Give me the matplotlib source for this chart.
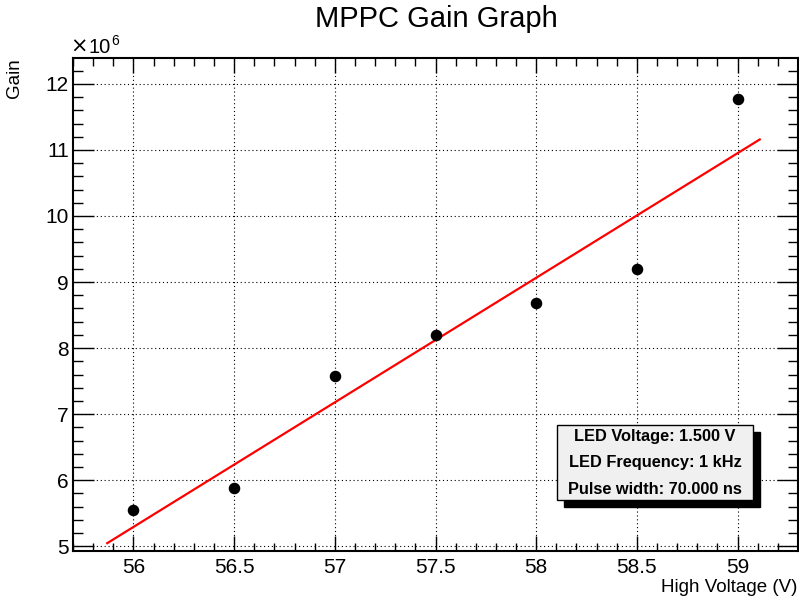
import numpy as np
import matplotlib
matplotlib.use('Agg')
from matplotlib import pyplot as plt
from matplotlib.patches import Rectangle
from matplotlib.ticker import MultipleLocator

plt.rcParams['font.family'] = ['Liberation Sans', 'DejaVu Sans']

# high voltage (V) and gain (x 1e6)
voltage = [56.0, 56.5, 57.0, 57.5, 58.0, 58.5, 59.0]
gain_e6 = [5.55, 5.88, 7.57, 8.20, 8.68, 9.20, 11.77]
fit_range = [55.87, 59.11]
info_lines = ["LED Voltage: 1.500 V", "LED Frequency: 1 kHz", "Pulse width: 70.000 ns"]

W, H = 799, 601
fig = plt.figure(figsize=(W / 100, H / 100), dpi=100)
ax = fig.add_axes([73 / W, 50 / H, 725 / W, 493 / H])

x = np.array(voltage)
y = np.array(gain_e6)

# straight line fit, like pol1 in ROOT
p = np.polyfit(x, y, 1)
xf = np.linspace(fit_range[0], fit_range[1], 50)
ax.plot(xf, np.polyval(p, xf), color='red', lw=1.6, zorder=3)
ax.plot(x, y, 'o', color='black', ms=7.3, zorder=4)

# ROOT style auto range: 10% margin on each side
dx = x.max() - x.min()
dy = y.max() - y.min()
ax.set_xlim(x.min() - 0.1 * dx, x.max() + 0.1 * dx)
ax.set_ylim(y.min() - 0.1 * dy, y.max() + 0.1 * dy)

ax.xaxis.set_major_locator(MultipleLocator(0.5))
ax.xaxis.set_minor_locator(MultipleLocator(0.1))
ax.yaxis.set_major_locator(MultipleLocator(1))
ax.yaxis.set_minor_locator(MultipleLocator(0.2))
ax.xaxis.set_major_formatter(lambda v, pos: '%g' % v)
ax.yaxis.set_major_formatter(lambda v, pos: '%g' % v)

ax.grid(True, which='major', color='black', lw=0.8, linestyle=(0, (1, 2.5)))
ax.set_axisbelow(True)

ax.tick_params(axis='both', which='both', direction='in', top=True, right=True,
               width=1, labelsize=15)
ax.tick_params(axis='x', which='major', length=11, pad=5)
ax.tick_params(axis='x', which='minor', length=5.5)
ax.tick_params(axis='y', which='major', length=15, pad=3)
ax.tick_params(axis='y', which='minor', length=7.5)
for s in ax.spines.values():
    s.set_linewidth(1.5)

fig.text(436 / W, 1 - 27 / H, "MPPC Gain Graph", ha='center', va='baseline', fontsize=21)
fig.text(797 / W, 1 - 592 / H, "High Voltage (V)", ha='right', va='baseline', fontsize=13.5)
fig.text(23 / W, 1 - 58 / H, "Gain", rotation=90, ha='right', va='top', fontsize=13.5)
# exponent label of the y axis
fig.text(70 / W, 1 - 53 / H, "\u00d7", ha='left', va='baseline', fontsize=15, family='DejaVu Sans')
fig.text(88 / W, 1 - 53 / H, "10", ha='left', va='baseline', fontsize=14.5)
fig.text(111 / W, 1 - 45 / H, "6", ha='left', va='baseline', fontsize=10)

# info box with shadow
bx0, by0, bx1, by1 = 557, 425, 753, 500
sh = 7
fig.patches.append(Rectangle(((bx0 + sh) / W, 1 - (by1 + sh) / H), (bx1 - bx0) / W, (by1 - by0) / H,
                             transform=fig.transFigure, facecolor='black', edgecolor='black', zorder=5))
fig.patches.append(Rectangle((bx0 / W, 1 - by1 / H), (bx1 - bx0) / W, (by1 - by0) / H,
                             transform=fig.transFigure, facecolor='#f0f0f0', edgecolor='black',
                             lw=1, zorder=6))
for i, t in enumerate(info_lines):
    fig.text((bx0 + bx1) / 2 / W, 1 - (437 + 26 * i) / H, t, ha='center', va='center',
             fontsize=11.8, fontweight='bold', zorder=7)

fig.savefig('out.png', dpi=100)
